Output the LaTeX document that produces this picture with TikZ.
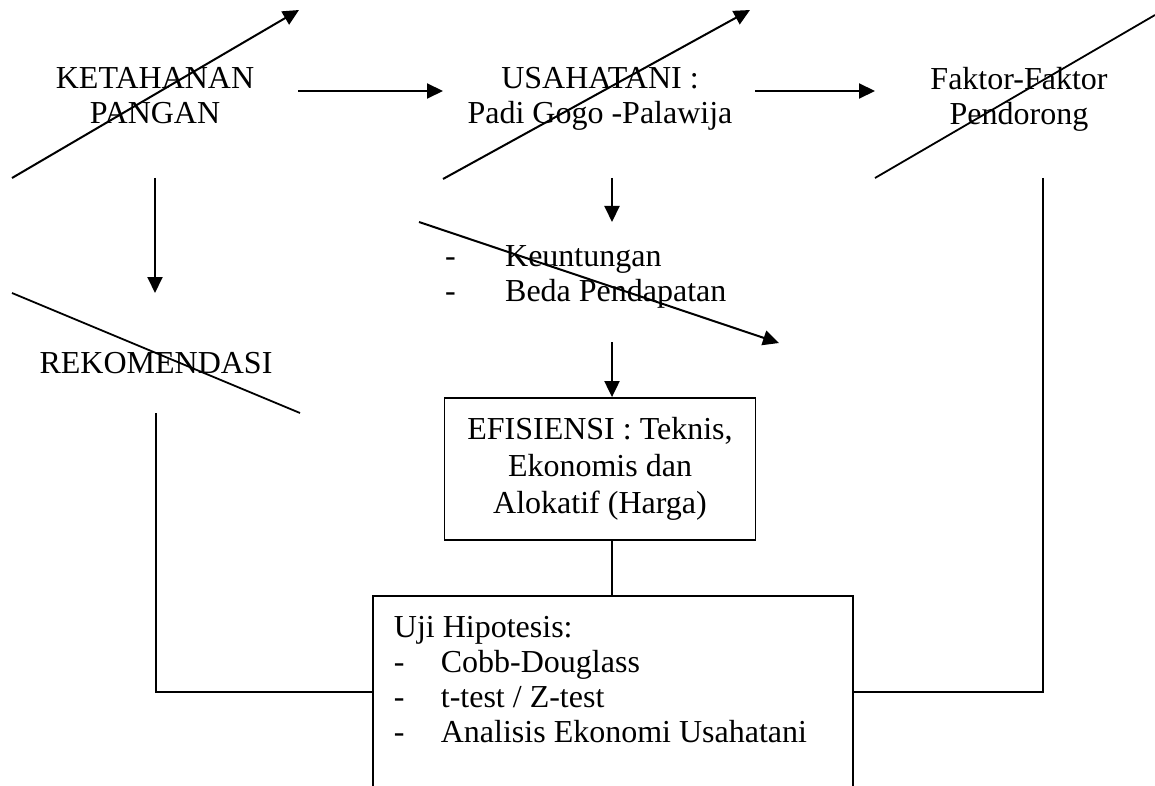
\documentclass[tikz,border=0pt]{standalone}
\usepackage{fontspec}
\setmainfont{Liberation Serif}
\usetikzlibrary{arrows.meta}
\tikzset{
  lbl/.style={font=\fontsize{32}{35}\selectfont, align=center, inner sep=0pt, anchor=north, execute at begin node={\rule{0pt}{24.5pt}}},
  lst/.style={lbl, align=left, anchor=north west},
  ln/.style={line width=1.8pt},
  arr/.style={line width=2pt, -{Triangle[length=16pt,width=15pt]}},
}
\newcommand{\dashitem}[1][47pt]{\makebox[#1][l]{-}}
\begin{document}
\begin{tikzpicture}[x=1pt,y=-1pt]
  \path[use as bounding box, clip] (0,0) rectangle (1155,786);
  \node[lbl] (ketahanan) at (155,67) {KETAHANAN\\PANGAN};
  \node[lbl] (usahatani) at (600,67) {USAHATANI :\\Padi Gogo -Palawija};
  \node[lbl] (faktor) at (1019,67) {Faktor-Faktor\\Pendorong};
  \node[lbl] (rekomendasi) at (156,349) {REKOMENDASI};
  \node[lst] (untung) at (445,245) {\dashitem[60pt]Keuntungan\\\dashitem[60pt]Beda Pendapatan};
  \node[draw, ln, font=\fontsize{32}{37}\selectfont, align=center, inner sep=0pt, minimum width=311pt, minimum height=142pt] (efisiensi) at (600,469) {EFISIENSI : Teknis,\\Ekonomis dan\\Alokatif (Harga)};
  \node[lst, align=flush left, draw, ln, text width=438pt, inner xsep=21pt, inner ysep=17pt, text depth=200pt] (uji) at (372,595) {Uji Hipotesis:\\\dashitem Cobb-Douglass\\\dashitem t-test / Z-test\\\dashitem Analisis Ekonomi Usahatani};
  \coordinate (k-out) at (298,91);
  \coordinate (u-in) at (443,91);
  \coordinate (u-out) at (755,91);
  \coordinate (f-in) at (875,91);
  \coordinate (k-down) at (155,178);
  \coordinate (r-in) at (155,293);
  \coordinate (u-down) at (612,178);
  \coordinate (b-in) at (612,222);
  \coordinate (b-out) at (612,342);
  \coordinate (r-out) at (156,413);
  \coordinate (f-out) at (1043,178);
  \draw[arr] (k-out) -- (u-in);
  \draw[arr] (u-out) -- (f-in);
  \draw[arr] (k-down) -- (r-in);
  \draw[arr] (u-down) -- (b-in);
  \draw[arr] (b-out) -- ([xshift=12pt]efisiensi.north);
  \draw[ln] ([xshift=12pt]efisiensi.south) -- ([xshift=12pt]efisiensi.south |- uji.north);
  \draw[ln] (r-out) |- ([yshift=-97pt]uji.north west);
  \draw[ln] (f-out) |- ([yshift=-97pt]uji.north east);
  \draw[arr] (12,178) coordinate (s1) -- (299,10) coordinate (e1);
  \draw[arr] (443,179) coordinate (s2) -- (750,10) coordinate (e2);
  \draw[ln] (875,178) coordinate (s3) -- (1155,15) coordinate (e3);
  \draw[ln] (12,293) coordinate (s4) -- (300,413) coordinate (e4);
  \draw[arr] (419,222) coordinate (s5) -- (779,343) coordinate (e5);
\end{tikzpicture}
\end{document}
